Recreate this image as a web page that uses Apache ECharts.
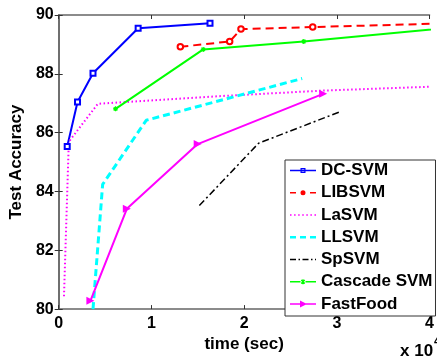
<!DOCTYPE html>
<html>
<head>
<meta charset="utf-8">
<script src="https://cdn.jsdelivr.net/npm/echarts@6/dist/echarts.min.js"></script>
<style>
  html, body { margin: 0; padding: 0; background: #fff; }
  #chart { width: 437px; height: 358px; }
</style>
</head>
<body>
<div id="chart"></div>
<script>
// Training time (seconds) vs. test accuracy (%) for each solver
const dcsvmTime = [918, 2030, 3700, 8570, 16320];
const dcsvmAcc = [85.53, 87.04, 88.02, 89.55, 89.72];

const libsvmTime = [13120, 18440, 19660, 27400, 46000];
const libsvmAcc = [88.92, 89.10, 89.52, 89.59, 89.75];

const lasvmTime = [570, 1090, 4220, 17260, 28520, 40000];
const lasvmAcc = [80.44, 85.69, 86.98, 87.24, 87.43, 87.56];

const llsvmTime = [3700, 4740, 9440, 26260];
const llsvmAcc = [80.0, 84.24, 86.42, 87.84];

const spsvmTime = [15170, 21560, 30430];
const spsvmAcc = [83.52, 85.64, 86.72];

const cascadeTime = [6130, 15590, 26430, 47000];
const cascadeAcc = [86.81, 88.83, 89.10, 89.71];

const fastfoodTime = [3420, 7350, 14990, 28520];
const fastfoodAcc = [80.28, 83.41, 85.61, 87.32];

const seriesNames = ['DC-SVM', 'LIBSVM', 'LaSVM', 'LLSVM', 'SpSVM', 'Cascade SVM', 'FastFood'];
const xTicks = [0, 10000, 20000, 30000, 40000];
const yTicks = [80, 82, 84, 86, 88, 90];

const FONT = 'Liberation Sans, Arial, sans-serif';
const BLUE = '#0000ff', RED = '#ff0000', MAGENTA = '#ff00ff', CYAN = '#00ffff', BLACK = '#000000', GREEN = '#00ff00';

function pairs(xs, ys) { return xs.map((x, i) => [x, ys[i]]); }

// ---- legend icon shapes (26 x 14 box, line centred at y = 7) ----
function rect(x, y, w, h) { return `M${x},${y}h${w}v${h}h${-w}z`; }
function hline(x0, x1, t) { return rect(x0, 7 - t / 2, x1 - x0, t); }
function dashes(pattern, t) {
  let d = '', x = 0, i = 0;
  while (x < 26) {
    const len = pattern[i % pattern.length];
    if (i % 2 === 0) d += hline(x, Math.min(26, x + len), t);
    x += len; i++;
  }
  return d;
}
function bar(x0, y0, x1, y1, t) {
  const dx = x1 - x0, dy = y1 - y0, L = Math.hypot(dx, dy);
  const nx = -dy / L * t / 2, ny = dx / L * t / 2;
  return `M${x0 + nx},${y0 + ny}L${x1 + nx},${y1 + ny}L${x1 - nx},${y1 - ny}L${x0 - nx},${y0 - ny}z`;
}
const iconSquare = 'path://' + hline(0, 26, 1.6) + rect(10.5, 4.5, 5, 5) + 'M11.7,5.7v2.6h2.6v-2.6z';
const iconCircle = 'path://' + hline(0, 6, 1.6) + hline(20, 26, 1.6) +
  'M10.5,7A2.5,2.5 0 1,0 15.5,7A2.5,2.5 0 1,0 10.5,7z';
const iconDotted = 'path://' + dashes([1.5, 2.5], 1.5);
const iconDashed = 'path://' + dashes([6, 4], 2.5);
const iconDashDot = 'path://' + dashes([6, 2.5, 1.5, 2.5], 1.4);
const iconAsterisk = 'path://' + hline(0, 26, 1.6) + bar(10.5, 7, 15.5, 7, 1.3) + bar(13, 4.5, 13, 9.5, 1.3) +
  bar(11.2, 5.2, 14.8, 8.8, 1.3) + bar(14.8, 5.2, 11.2, 8.8, 1.3);
const iconTriangle = 'path://' + hline(0, 26, 1.6) + 'M10,3.5L17,7L10,10.5z';

const legendIcons = [iconSquare, iconCircle, iconDotted, iconDashed, iconDashDot, iconAsterisk, iconTriangle];
const legendColors = [BLUE, RED, MAGENTA, CYAN, BLACK, GREEN, MAGENTA];

// plot-marker shapes
const asterisk = 'path://M0,5L10,5M5,0L5,10M1.5,1.5L8.5,8.5M8.5,1.5L1.5,8.5';

const chart = echarts.init(document.getElementById('chart'), null, { renderer: 'canvas' });

const axisLine = { show: true, lineStyle: { color: '#666', width: 1.5 } };
const tickStyle = { show: true, inside: true, length: 4, lineStyle: { color: '#333', width: 1 } };

const option = {
  animation: false,
  backgroundColor: '#fff',
  grid: { left: 54, top: 15, width: 384, height: 298, containLabel: false },
  xAxis: [{
    type: 'value', position: 'bottom',
    min: xTicks[0], max: xTicks[xTicks.length - 1], interval: 10000,
    name: 'time (sec)', nameLocation: 'middle', nameGap: 22,
    nameTextStyle: { fontFamily: FONT, fontSize: 17, fontWeight: 'bold', color: '#000' },
    axisLine: axisLine, axisTick: tickStyle,
    axisLabel: { margin: 6, fontFamily: FONT, fontSize: 16, fontWeight: 'bold', color: '#000',
      formatter: v => String(v / 10000) },
    splitLine: { show: false }
  }, {
    type: 'value', position: 'top',
    min: xTicks[0], max: xTicks[xTicks.length - 1], interval: 10000,
    axisLine: axisLine, axisTick: tickStyle,
    axisLabel: { show: false }, splitLine: { show: false }
  }],
  yAxis: [{
    type: 'value', position: 'left',
    min: yTicks[0], max: yTicks[yTicks.length - 1], interval: 2,
    name: 'Test Accuracy', nameLocation: 'middle', nameGap: 21, nameRotate: 90,
    nameTextStyle: { fontFamily: FONT, fontSize: 17, fontWeight: 'bold', color: '#000' },
    axisLine: axisLine, axisTick: tickStyle,
    axisLabel: { margin: 5, fontFamily: FONT, fontSize: 16, fontWeight: 'bold', color: '#000' },
    splitLine: { show: false }
  }, {
    type: 'value', position: 'right',
    min: yTicks[0], max: yTicks[yTicks.length - 1], interval: 2,
    axisLine: axisLine, axisTick: tickStyle,
    axisLabel: { show: false }, splitLine: { show: false }
  }],
  legend: {
    orient: 'vertical', left: 285, top: 160,
    padding: [2, 3, 3.5, 5],
    backgroundColor: '#fff', borderColor: '#333', borderWidth: 1,
    itemWidth: 26, itemHeight: 14, itemGap: 5.25,
    symbolKeepAspect: true,
    textStyle: { fontFamily: FONT, fontSize: 17, fontWeight: 'bold', color: '#000', lineHeight: 16 },
    data: seriesNames.map((n, i) => ({
      name: n, icon: legendIcons[i],
      itemStyle: { color: legendColors[i], borderWidth: 0 }
    }))
  },
  graphic: [
    { type: 'text', left: 400, top: 343, style: { text: 'x 10', font: 'bold 17px ' + FONT, fill: '#000' } },
    { type: 'text', left: 434, top: 336, style: { text: '4', font: 'bold 12px ' + FONT, fill: '#000' } }
  ],
  series: [
    {
      name: seriesNames[0], type: 'line', data: pairs(dcsvmTime, dcsvmAcc),
      symbol: 'emptyRect', symbolSize: 5,
      lineStyle: { color: BLUE, width: 2 },
      itemStyle: { color: BLUE, borderColor: BLUE, borderWidth: 1.5 }
    },
    {
      name: seriesNames[1], type: 'line', data: pairs(libsvmTime, libsvmAcc),
      symbol: 'emptyCircle', symbolSize: 5.5,
      lineStyle: { color: RED, width: 2, type: [8, 5] },
      itemStyle: { color: RED, borderColor: RED, borderWidth: 1.5 }
    },
    {
      name: seriesNames[2], type: 'line', data: pairs(lasvmTime, lasvmAcc),
      symbol: 'none',
      lineStyle: { color: MAGENTA, width: 2, type: [1.5, 2.5] },
      itemStyle: { color: MAGENTA }
    },
    {
      name: seriesNames[3], type: 'line', data: pairs(llsvmTime, llsvmAcc),
      symbol: 'none',
      lineStyle: { color: CYAN, width: 3, type: [7, 4] },
      itemStyle: { color: CYAN }
    },
    {
      name: seriesNames[4], type: 'line', data: pairs(spsvmTime, spsvmAcc),
      symbol: 'none',
      lineStyle: { color: BLACK, width: 1.5, type: [7, 3, 2, 3] },
      itemStyle: { color: BLACK }
    },
    {
      name: seriesNames[5], type: 'line', data: pairs(cascadeTime, cascadeAcc),
      symbol: asterisk, symbolSize: 5,
      lineStyle: { color: GREEN, width: 2 },
      itemStyle: { color: GREEN, borderColor: GREEN, borderWidth: 1.2 }
    },
    {
      name: seriesNames[6], type: 'line', data: pairs(fastfoodTime, fastfoodAcc),
      symbol: 'triangle', symbolRotate: -90, symbolSize: 8,
      lineStyle: { color: MAGENTA, width: 2 },
      itemStyle: { color: MAGENTA }
    }
  ]
};

chart.setOption(option);
</script>
</body>
</html>
